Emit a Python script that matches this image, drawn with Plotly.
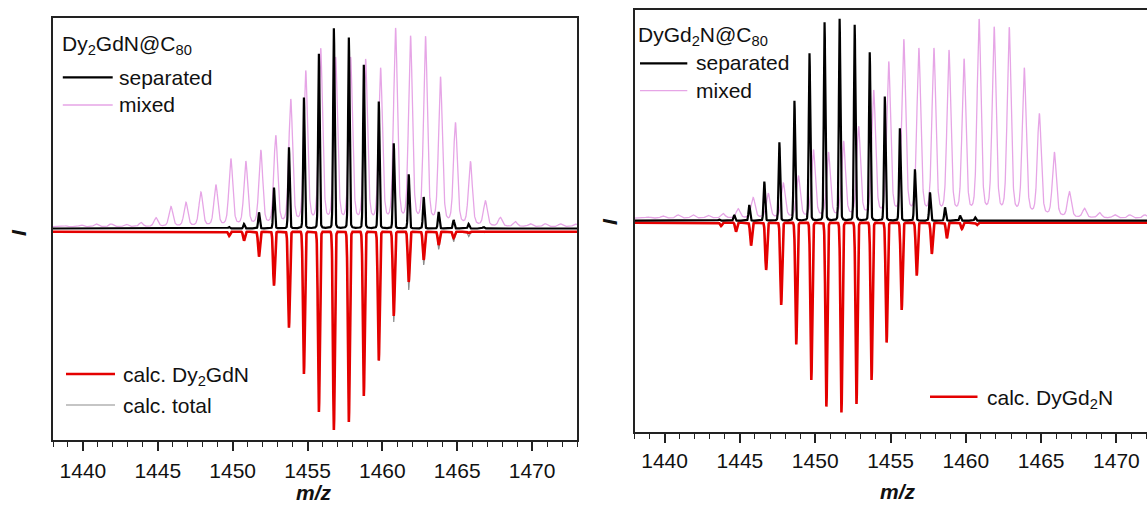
import numpy as np
import plotly.graph_objects as go

# ---- data (intensities in % of the strongest peak) ----
# each series: m/z of first peak, then one peak per 1 m/z unit
mz_ticks = [1440, 1445, 1450, 1455, 1460, 1465, 1470]

# left panel: Dy2GdN@C80
sep_left_start = 1449.76
sep_left = [1.5, 3, 8.8, 21.2, 41.3, 66.2, 88, 100.8, 96.2, 82.5, 64.2, 43.3,
            27.8, 16.5, 9, 5, 3, 1.5]
calc_left_start = 1449.76
calc_left = [3, 5.3, 13.3, 27.8, 48.8, 72, 91, 100, 96, 83, 65.3, 43, 26, 15,
             7.5, 4, 1.5]
total_left = [3, 5.3, 13.3, 27.8, 48.8, 72, 91, 100, 96, 83, 65.3, 46, 30, 17.5,
              9.7, 5.8, 3.3, 1.5]

# mixed sample (same in both panels)
mixed_start = 1438.88
mixed = [2, 2.5, 3, 3, 2.8, 3.6, 6, 11.5, 13.5, 18.5, 22, 35, 33.5, 39, 46, 64,
         78, 89, 84.5, 84.5, 83.5, 79, 99, 95, 95, 75, 52.5, 33.5, 14, 6, 4, 3,
         3, 3, 3]

# right panel: DyGd2N@C80
sep_right_start = 1443.62
sep_right = [0.8, 3, 8, 19.7, 39.3, 60, 83.8, 99.3, 101, 98, 84.3, 62.2, 46.3,
             25.8, 14.3, 6.8, 2.7, 1.8]
calc_right_start = 1443.74
calc_right = [2.5, 5.3, 12.3, 24.5, 42, 61.7, 79.5, 92.8, 95.7, 91.5, 79.5, 60.8,
              44.5, 27.3, 16.5, 8.7, 4, 2]

grid = np.arange(1438.0, 1476.0, 0.01)


def profile(start, heights, base, width, lor=0.0):
    # line shape drawn around each read peak
    y = np.full_like(grid, base)
    for i, h in enumerate(heights):
        d = grid - (start + i)
        g = np.exp(-0.5 * (d / width) ** 2)
        l = 1.0 / (1.0 + (d / (1.18 * width)) ** 2)
        y += (h - base) * ((1 - lor) * g + lor * l)
    return y


W, H = 1147, 506
def px(x):
    return x / W
def py(y):
    return 1 - y / H

BLACK = 'black'
PINK = 'rgb(230,165,230)'
RED = 'rgb(228,0,0)'
GREY = 'rgb(140,140,140)'
FONT = 'Liberation Sans, Arial, sans-serif'

fig = go.Figure()

# left panel
fig.add_trace(go.Scatter(x=grid, y=profile(mixed_start, mixed, 1.6, 0.13, 0.35),
                         mode='lines', line=dict(color=PINK, width=1.3), xaxis='x', yaxis='y'))
fig.add_trace(go.Scatter(x=grid, y=-profile(calc_left_start, total_left, 0.85, 0.06),
                         mode='lines', line=dict(color=GREY, width=1.2), xaxis='x', yaxis='y'))
fig.add_trace(go.Scatter(x=grid, y=-profile(calc_left_start, calc_left, 0.85, 0.06),
                         mode='lines', line=dict(color=RED, width=2.6), xaxis='x', yaxis='y'))
fig.add_trace(go.Scatter(x=grid, y=profile(sep_left_start, sep_left, 0.75, 0.05, 0.1),
                         mode='lines', line=dict(color=BLACK, width=2.2), xaxis='x', yaxis='y'))

# right panel
fig.add_trace(go.Scatter(x=grid, y=profile(mixed_start, mixed, 1.4, 0.13, 0.35),
                         mode='lines', line=dict(color=PINK, width=1.3), xaxis='x2', yaxis='y2'))
fig.add_trace(go.Scatter(x=grid, y=-profile(calc_right_start, calc_right, 0.85, 0.06),
                         mode='lines', line=dict(color=RED, width=2.6), xaxis='x2', yaxis='y2'))
fig.add_trace(go.Scatter(x=grid, y=profile(sep_right_start, sep_right, 0.15, 0.05, 0.1),
                         mode='lines', line=dict(color=BLACK, width=2.2), xaxis='x2', yaxis='y2'))

xcommon = dict(tickmode='array', tickvals=mz_ticks, ticks='outside', ticklen=9,
               tickwidth=1.5, tickcolor='#222', showline=True, linecolor='#222',
               linewidth=1.6, showgrid=False, zeroline=False,
               tickfont=dict(family=FONT, size=21, color='#111'),
               minor=dict(dtick=1, tick0=1440, ticks='outside', ticklen=5,
                          tickwidth=1.3, tickcolor='#222'))
ycommon = dict(showticklabels=False, ticks='', showgrid=False, zeroline=False,
               showline=True, linecolor='#222', linewidth=1.6)

fig.update_layout(
    width=W, height=H, margin=dict(l=0, r=0, t=0, b=0),
    paper_bgcolor='white', plot_bgcolor='white', showlegend=False,
    xaxis=dict(domain=[px(53), px(577)], range=[1438, 1473], mirror=True, anchor='y',
               ticklabelstandoff=2, **xcommon),
    yaxis=dict(domain=[py(440), py(18)], range=[-105, 106], mirror=True, anchor='x', **ycommon),
    xaxis2=dict(domain=[px(634.5), 1], range=[1438, 1472.03], mirror=True, anchor='y2',
                ticklabelstandoff=0, **xcommon),
    yaxis2=dict(domain=[py(432), py(10)], range=[-105.5, 105.5], mirror=False, anchor='x2', **ycommon),
)

# legends drawn as text + sample lines
def label(x, y, text, xanchor='left', angle=0, pad=1):
    fig.add_annotation(x=px(x), y=py(y), xref='paper', yref='paper', text=text,
                       showarrow=False, xanchor=xanchor, yanchor='middle', textangle=angle,
                       borderpad=pad, font=dict(family=FONT, size=21, color='#111'))

def sample(x0, x1, y, color, width):
    fig.add_shape(type='line', xref='paper', yref='paper', x0=px(x0), x1=px(x1),
                  y0=py(y), y1=py(y), line=dict(color=color, width=width))

label(60, 45, 'Dy<sub>2</sub>GdN@C<sub>80</sub>')
sample(62.8, 112.7, 77.3, BLACK, 2.2)
label(117, 77, 'separated')
sample(62.8, 112.7, 105, PINK, 1.3)
label(117, 104, 'mixed')
sample(66, 115, 374, RED, 2.6)
label(120.5, 376, 'calc. Dy<sub>2</sub>GdN')
sample(66, 115, 405, GREY, 1.2)
label(120.5, 405, 'calc. total')

label(636, 36, 'DyGd<sub>2</sub>N@C<sub>80</sub>')
sample(640, 687.3, 63.3, BLACK, 2.2)
label(694, 63, 'separated')
sample(640, 687.3, 90.7, PINK, 1.3)
label(694, 91, 'mixed')
sample(930, 977.5, 396.7, RED, 2.6)
label(984.5, 399, 'calc. DyGd<sub>2</sub>N')

# axis titles
label(314, 492, '<b><i>m/z</i></b>', xanchor='center', pad=0)
label(898, 491, '<b><i>m/z</i></b>', xanchor='center', pad=0)
label(18, 233, '<b><i>I</i></b>', xanchor='center', angle=-90)
label(609, 222, '<b><i>I</i></b>', xanchor='center', angle=-90)

# the page body has a default margin; remove it so the figure sits at the page corner
fig.write_html("out.html", config={'displayModeBar': False},
               post_script="document.body.style.margin='0';document.body.style.overflow='hidden';")
